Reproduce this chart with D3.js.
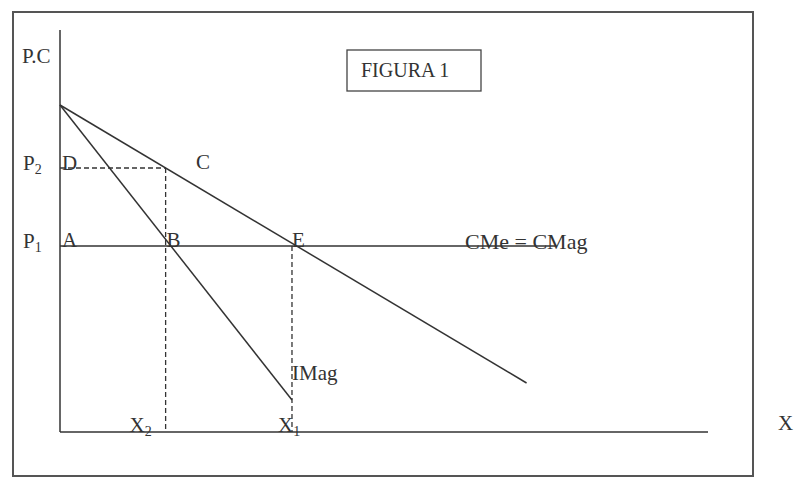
<!DOCTYPE html>
<html>
<head>
<meta charset="utf-8">
<script src="https://cdn.jsdelivr.net/npm/d3@7"></script>
<style>
  body { margin: 0; background: #fff; }
  text { font-family: "Liberation Serif", "Times New Roman", serif; fill: #333; }
</style>
</head>
<body>
<svg></svg>
<script>
var WIDTH = 797;
var HEIGHT = 477;

// values (arbitrary units)
var demand = [[0, 8.175], [7.2, 1.225]];        // demand curve
var imag = [[0, 8.175], [3.58, 0.8]];           // marginal revenue (IMag)
var cmeLine = [[0, 4.65], [7.64, 4.65]];        // CMe = CMag
var P1 = 4.65, P2 = 6.6;
var X1 = 3.58, X2 = 1.63;
var priceLabels = [{ t: 'P', sub: '1', v: P1 }, { t: 'P', sub: '2', v: P2 }];
var qtyLabels = [{ t: 'X', sub: '2', v: X2, dx: -36 }, { t: 'X', sub: '1', v: X1, dx: -14 }];

var svg = d3.select('svg')
  .attr('width', WIDTH)
  .attr('height', HEIGHT);

var xScale = d3.scaleLinear().domain([0, 10]).range([60, 708]);
var yScale = d3.scaleLinear().domain([0, 10]).range([432, 32]);

var ink = '#333';

// outer frame
svg.append('rect')
  .attr('x', 13).attr('y', 12)
  .attr('width', 740).attr('height', 464)
  .attr('fill', 'none')
  .attr('stroke', '#555')
  .attr('stroke-width', 2);

// axes
svg.append('line')
  .attr('x1', xScale(0)).attr('x2', xScale(0))
  .attr('y1', yScale(0)).attr('y2', yScale(10.05))
  .attr('stroke', ink).attr('stroke-width', 1.5);
svg.append('line')
  .attr('x1', xScale(0)).attr('x2', xScale(10))
  .attr('y1', yScale(0)).attr('y2', yScale(0))
  .attr('stroke', ink).attr('stroke-width', 1.5);

var line = d3.line()
  .x(function(d) { return xScale(d[0]); })
  .y(function(d) { return yScale(d[1]); });

[demand, imag, cmeLine].forEach(function(pts) {
  svg.append('path')
    .attr('d', line(pts))
    .attr('fill', 'none')
    .attr('stroke', ink)
    .attr('stroke-width', 1.5);
});

// dashed guides
var dashed = [
  [[0, P2], [X2, P2]],
  [[X2, P2], [X2, 0]],
  [[X1, P1], [X1, 0]]
];
dashed.forEach(function(pts) {
  svg.append('path')
    .attr('d', line(pts))
    .attr('fill', 'none')
    .attr('stroke', ink)
    .attr('stroke-width', 1.3)
    .attr('stroke-dasharray', '5,3');
});

var FS = 21;

function subLabel(x, y, t, sub) {
  var txt = svg.append('text')
    .attr('x', x).attr('y', y)
    .attr('font-size', FS);
  txt.append('tspan').text(t);
  txt.append('tspan')
    .attr('font-size', 14)
    .attr('dy', 4)
    .text(sub);
}

priceLabels.forEach(function(d) {
  subLabel(23, yScale(d.v) + 2, d.t, d.sub);
});
qtyLabels.forEach(function(d) {
  subLabel(xScale(d.v) + d.dx, yScale(0), d.t, d.sub);
});

function label(x, y, t, size) {
  svg.append('text')
    .attr('x', x).attr('y', y)
    .attr('font-size', size || FS)
    .text(t);
}

label(22, 63, 'P.C');
label(62, yScale(P2) + 2, 'D');
label(196, yScale(P2) + 1, 'C');
label(62, yScale(P1) + 1, 'A');
label(xScale(X2) + 1, yScale(P1) + 1, 'B');
label(xScale(X1), yScale(P1) + 1, 'E');
label(465, yScale(P1) + 3, 'CMe = CMag', 22);
label(xScale(X1), 380, 'IMag');
label(778, 430, 'X');

// title box
svg.append('rect')
  .attr('x', 347).attr('y', 50)
  .attr('width', 134).attr('height', 41)
  .attr('fill', 'none')
  .attr('stroke', '#444')
  .attr('stroke-width', 1.3);
label(361, 77, 'FIGURA 1', 20);
</script>
</body>
</html>
